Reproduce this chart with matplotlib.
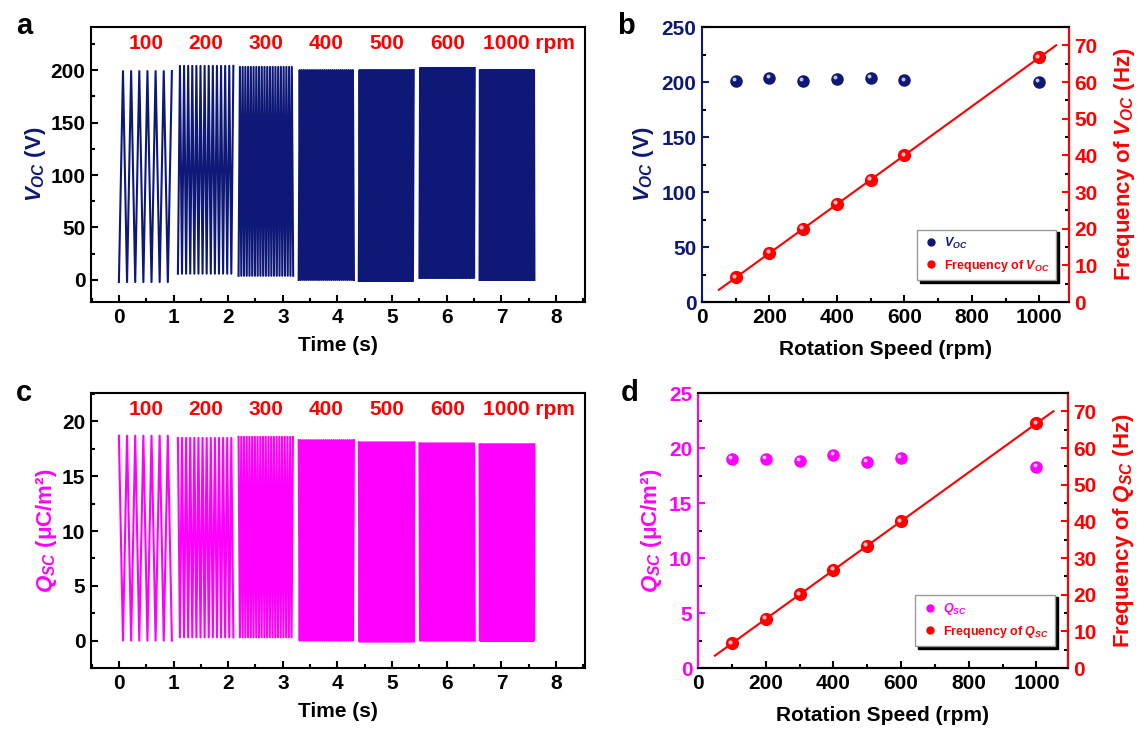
import numpy as np
import matplotlib
matplotlib.use('Agg')
import matplotlib.pyplot as plt
from matplotlib.lines import Line2D
from matplotlib.ticker import MultipleLocator
from matplotlib.transforms import ScaledTranslation, blended_transform_factory

plt.rcParams['font.family'] = ['Liberation Sans', 'DejaVu Sans']
plt.rcParams['font.weight'] = 'bold'
plt.rcParams['axes.labelweight'] = 'bold'
plt.rcParams['mathtext.fontset'] = 'custom'
plt.rcParams['mathtext.it'] = 'Liberation Sans:italic:bold'
plt.rcParams['mathtext.rm'] = 'Liberation Sans:bold'
plt.rcParams['mathtext.bf'] = 'Liberation Sans:bold'

NAVY = '#0d1877'
MAGENTA = '#ff00ff'
RED = '#ff0000'
FS = 15

# rotation speed sweep
rpm = [100, 200, 300, 400, 500, 600, 1000]
voc = [201, 204, 201, 203, 203.5, 201.5, 200]
qsc = [19.0, 19.0, 18.85, 19.35, 18.75, 19.1, 18.3]
freq_voc = [6.7, 13.3, 20.0, 26.7, 33.3, 40.0, 66.7]
freq_qsc = [6.7, 13.3, 20.1, 26.7, 33.4, 40.0, 66.7]
fit_range = [50, 1050]

# recorded signal segments (s), one per speed
seg_start = [0.0, 1.08, 2.19, 3.29, 4.39, 5.50, 6.60]
seg_end = [1.00, 2.11, 3.20, 4.31, 5.41, 6.52, 7.61]
voc_high = [199, 204, 203, 200, 200, 202, 200]
voc_low = [-2, 6, 4, 0, -1, 2, 0]
qsc_high = [18.7, 18.5, 18.6, 18.3, 18.1, 18.0, 17.9]
qsc_low = [0.0, 0.3, 0.3, 0.0, -0.1, 0.0, 0.0]
speed_labels = ['100', '200', '300', '400', '500', '600', '1000 rpm']


def waveform(start, end, freq, low, high, start_high=False):
    # triangle wave through its turning points
    n = int((end - start) * freq * 2)
    k = np.arange(n + 1)
    t = start + k / (2 * freq)
    first, second = (high, low) if start_high else (low, high)
    v = np.where(k % 2 == 0, first, second)
    return t, v


def style(ax, size=FS):
    for sp in ax.spines.values():
        sp.set_linewidth(1.5)
    ax.tick_params(which='both', direction='in', width=1.5, labelsize=size, pad=4)
    ax.tick_params(which='major', length=5)
    ax.tick_params(which='minor', length=3)


def balls(ax, x, y, color, size=8):
    ax.plot(x, y, 'o', ms=size, color=color, mec=color, zorder=4)
    shine = ax.transData + ScaledTranslation(-1.3 / 72, 1.3 / 72, ax.figure.dpi_scale_trans)
    ax.plot(x, y, 'o', ms=size * 0.35, color='white', alpha=0.75, mec='none',
            transform=shine, zorder=5)


def plot_signal(ax, high, low, freqs, color, ylabel, start_high):
    for s, e, f, lo, hi in zip(seg_start, seg_end, freqs, low, high):
        t, v = waveform(s, e, f, lo, hi, start_high)
        ax.plot(t, v, color=color, lw=1.5)
    trans = blended_transform_factory(ax.transData, ax.transAxes)
    for i, lab in enumerate(speed_labels):
        if i == len(speed_labels) - 1:
            ax.text(seg_start[i] + 0.06, 0.94, lab, transform=trans, color=RED,
                    fontsize=FS, ha='left', va='center')
        else:
            ax.text((seg_start[i] + seg_end[i]) / 2, 0.94, lab, transform=trans,
                    color=RED, fontsize=FS, ha='center', va='center')
    ax.set_xlim(-0.51, 8.53)
    ax.xaxis.set_major_locator(MultipleLocator(1))
    ax.xaxis.set_minor_locator(MultipleLocator(0.5))
    ax.set_xlabel('Time (s)', fontsize=FS, labelpad=7)
    ax.set_ylabel(ylabel, color=color, fontsize=16, labelpad=2)
    style(ax)


def plot_speed(ax, values, freqs, color, ylim, step, ylabel, leg_label, right_label):
    ax2 = ax.twinx()
    balls(ax, rpm, values, color)
    coef = np.polyfit(rpm, freqs, 1)
    ax2.plot(fit_range, np.polyval(coef, fit_range), color=RED, lw=1.5, zorder=3)
    balls(ax2, rpm, freqs, RED, size=8.5)
    ax.set_xlim(0, 1088)
    ax.set_ylim(*ylim)
    ax2.set_ylim(0, 75)
    ax.xaxis.set_major_locator(MultipleLocator(200))
    ax.xaxis.set_minor_locator(MultipleLocator(100))
    ax.yaxis.set_major_locator(MultipleLocator(step))
    ax.yaxis.set_minor_locator(MultipleLocator(step / 2))
    ax2.yaxis.set_major_locator(MultipleLocator(10))
    ax2.yaxis.set_minor_locator(MultipleLocator(5))
    style(ax)
    style(ax2)
    ax.spines['left'].set_color(color)
    ax2.spines['left'].set_visible(False)
    ax2.spines['right'].set_color(RED)
    ax.tick_params(axis='y', colors=color)
    ax2.tick_params(axis='y', colors=RED)
    ax.set_xlabel('Rotation Speed (rpm)', fontsize=FS, labelpad=10)
    ax.set_ylabel(ylabel, color=color, fontsize=16, labelpad=4)
    ax2.set_ylabel(right_label, color=RED, fontsize=16, labelpad=10)
    handles = [Line2D([], [], ls='none', marker='o', ms=5, color=color),
               Line2D([], [], ls='none', marker='o', ms=5, color=RED)]
    leg = ax2.legend(handles, [leg_label, 'Frequency of ' + leg_label],
                     loc='lower right', bbox_to_anchor=(0.965, 0.08),
                     bbox_transform=ax2.transAxes, borderaxespad=0,
                     fontsize=9, frameon=True, fancybox=False,
                     shadow={'color': 'black', 'alpha': 1.0},
                     edgecolor='#999999', handletextpad=0.4, handlelength=1.3,
                     borderpad=0.5, labelspacing=0.55)
    leg.get_frame().set_linewidth(1.0)
    leg.get_texts()[0].set_color(color)
    leg.get_texts()[1].set_color(RED)


def main():
    fig = plt.figure(figsize=(11.45, 7.32), dpi=100)
    ax_a = fig.add_axes([0.0795, 0.5874, 0.4314, 0.3757])
    ax_b = fig.add_axes([0.6131, 0.5874, 0.3205, 0.3757])
    ax_c = fig.add_axes([0.0795, 0.0874, 0.4314, 0.3757])
    ax_d = fig.add_axes([0.6096, 0.0874, 0.3231, 0.3757])

    plot_signal(ax_a, voc_high, voc_low, freq_voc, NAVY, r'$V_{OC}$ (V)', False)
    ax_a.set_ylim(-21, 241)
    ax_a.yaxis.set_major_locator(MultipleLocator(50))
    ax_a.yaxis.set_minor_locator(MultipleLocator(25))

    plot_signal(ax_c, qsc_high, qsc_low, freq_qsc, MAGENTA, r'$Q_{SC}$ (μC/m²)', True)
    ax_c.set_ylim(-2.5, 22.6)
    ax_c.yaxis.set_major_locator(MultipleLocator(5))
    ax_c.yaxis.set_minor_locator(MultipleLocator(2.5))

    plot_speed(ax_b, voc, freq_voc, NAVY, (0, 250), 50, r'$V_{OC}$ (V)',
               r'$V_{OC}$', r'Frequency of $V_{OC}$ (Hz)')
    plot_speed(ax_d, qsc, freq_qsc, MAGENTA, (0, 25), 5, r'$Q_{SC}$ (μC/m²)',
               r'$Q_{SC}$', r'Frequency of $Q_{SC}$ (Hz)')
    ax_d.set_xlim(0, 1093)

    for x, y, letter in [(24, 26, 'a'), (626, 26, 'b'), (24, 393, 'c'), (630, 393, 'd')]:
        fig.text(x / 1145, 1 - y / 732, letter, fontsize=21, ha='center', va='center')

    fig.savefig('out.png', dpi=100)


if __name__ == '__main__':
    main()
